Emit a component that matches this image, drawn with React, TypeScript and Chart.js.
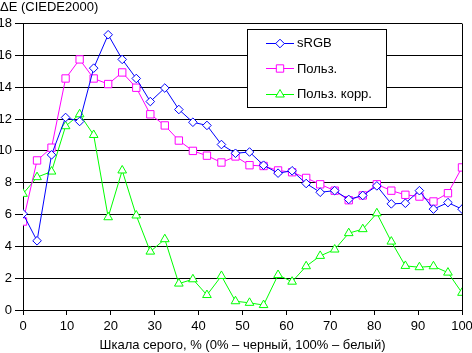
import React, { useEffect, useRef } from 'react';
import { Chart, registerables } from 'chart.js';
import { drawPoint } from 'chart.js/helpers';

Chart.register(...registerables);

const grayPercent = [0, 3.2, 6.5, 9.7, 12.9, 16.1, 19.4, 22.6, 25.8, 29.0, 32.3, 35.5, 38.7, 41.9, 45.2, 48.4, 51.6, 54.8, 58.1, 61.3, 64.5, 67.7, 71.0, 74.2, 77.4, 80.6, 83.9, 87.1, 90.3, 93.5, 96.8, 100];
const srgb = [6.05, 4.35, 9.75, 12.1, 11.85, 15.2, 17.3, 15.75, 14.55, 13.1, 13.95, 12.6, 11.8, 11.6, 10.4, 9.85, 9.93, 9.1, 8.6, 8.75, 7.95, 7.4, 7.5, 6.95, 7.2, 7.8, 6.67, 6.71, 7.5, 6.34, 6.75, 6.34];
const userProfile = [5.56, 9.4, 10.2, 14.55, 15.75, 14.55, 14.2, 14.93, 13.97, 12.3, 11.6, 10.65, 10.0, 9.7, 9.27, 9.65, 9.1, 9.05, 8.77, 8.66, 8.3, 7.9, 7.5, 6.9, 7.2, 7.9, 7.5, 7.24, 7.13, 6.82, 7.34, 8.96];
const userCorrected = [7.3, 8.35, 8.7, 11.55, 12.3, 11.0, 5.83, 8.77, 5.94, 3.67, 4.45, 1.66, 1.93, 0.94, 2.14, 0.55, 0.45, 0.31, 2.2, 1.78, 2.75, 3.4, 3.8, 4.83, 5.08, 6.08, 4.3, 2.77, 2.69, 2.75, 2.35, 1.08];
const seriesLabels = ['sRGB', 'Польз.', 'Польз. корр.'];
const yAxisTitle = 'ΔE (CIEDE2000)';
const xAxisTitle = 'Шкала серого, % (0% – черный, 100% – белый)';

const FONT = '"Liberation Sans", Arial, sans-serif';

const boxLegend = {
  id: 'boxLegend',
  afterDatasetsDraw(chart: any) {
    const { ctx, chartArea } = chart;
    const x = Math.round(chartArea.left) + 224;
    const y = Math.round(chartArea.top) + 5;
    const w = 139;
    const h = 78;
    ctx.save();
    ctx.fillStyle = '#fff';
    ctx.fillRect(x, y, w, h);
    ctx.strokeStyle = '#000';
    ctx.lineWidth = 1;
    ctx.strokeRect(x + 0.5, y + 0.5, w, h);
    chart.data.datasets.forEach((ds: any, i: number) => {
      const cy = y + 13.5 + i * 25.5;
      const ly = Math.round(cy) + 0.5;
      ctx.strokeStyle = ds.borderColor;
      ctx.lineWidth = 1;
      ctx.beginPath();
      ctx.moveTo(x + 19, ly);
      ctx.lineTo(x + 47, ly);
      ctx.stroke();
      ctx.fillStyle = '#fff';
      ctx.strokeStyle = ds.borderColor;
      drawPoint(ctx, { pointStyle: ds.pointStyle, rotation: 0, radius: ds.pointRadius, borderWidth: 1 }, x + 33, ly);
      ctx.fillStyle = '#000';
      ctx.font = `13px ${FONT}`;
      ctx.textBaseline = 'middle';
      ctx.textAlign = 'left';
      ctx.fillText(ds.label, x + 50, cy + 1);
    });
    ctx.restore();
  },
};

export default function App() {
  const ref = useRef<HTMLCanvasElement>(null);
  useEffect(() => {
    if (!ref.current) return;
    Chart.defaults.color = '#000';
    Chart.defaults.font.family = FONT;
    Chart.defaults.font.size = 13;
    const mk = (label: string, data: number[], color: string, style: string, r: number) => ({
      label,
      data: grayPercent.map((x, i) => ({ x, y: data[i] })),
      borderColor: color,
      backgroundColor: '#fff',
      borderWidth: 1,
      pointStyle: style,
      pointRadius: r,
      pointBorderWidth: 1,
      pointBackgroundColor: '#fff',
      pointBorderColor: color,
      tension: 0,
    });
    const chart = new Chart(ref.current, {
      type: 'line',
      data: {
        datasets: [
          mk(seriesLabels[0], srgb, '#0000ff', 'rectRot', 4.3),
          mk(seriesLabels[1], userProfile, '#ff00ff', 'rect', 5.2),
          mk(seriesLabels[2], userCorrected, '#00ff00', 'triangle', 5),
        ],
      },
      options: {
        animation: false,
        responsive: false,
        events: [],
        layout: { padding: { top: 0, right: 10, left: 0, bottom: 0 } },
        plugins: {
          legend: { display: false },
          tooltip: { enabled: false },
          title: {
            display: true,
            text: yAxisTitle,
            align: 'start',
            font: { size: 13, weight: 'normal', family: FONT },
            color: '#000',
            padding: { top: 0, bottom: 8 },
          },
        },
        scales: {
          x: {
            type: 'linear',
            min: 0,
            max: 100,
            ticks: { stepSize: 10, padding: 4, maxRotation: 0, font: { size: 13 } },
            grid: {
              color: (c: any) => (c.tick && c.tick.value === 100 ? '#000' : 'rgba(0,0,0,0)'),
              tickColor: '#000',
              tickLength: 5,
              lineWidth: 1,
            },
            border: { display: true, color: '#000', width: 1 },
            title: { display: true, text: xAxisTitle, font: { size: 13 }, padding: 0, color: '#000' },
            afterFit: (s: any) => {
              s.height = 43;
              s.paddingLeft = 0;
              s.paddingRight = 0;
            },
          },
          y: {
            type: 'linear',
            min: 0,
            max: 18,
            ticks: { stepSize: 2, padding: 3, font: { size: 13 } },
            grid: { color: '#000', tickColor: '#000', tickLength: 8, lineWidth: 1 },
            border: { display: true, color: '#000', width: 1 },
            afterFit: (s: any) => { s.width = 23; },
          },
        },
      },
      plugins: [boxLegend],
    });
    return () => chart.destroy();
  }, []);
  return (
    <div style={{ position: 'fixed', left: 0, top: 0, width: 472, height: 353, background: '#fff' }}>
      <canvas ref={ref} width={472} height={353} style={{ width: 472, height: 353 }} />
    </div>
  );
}
